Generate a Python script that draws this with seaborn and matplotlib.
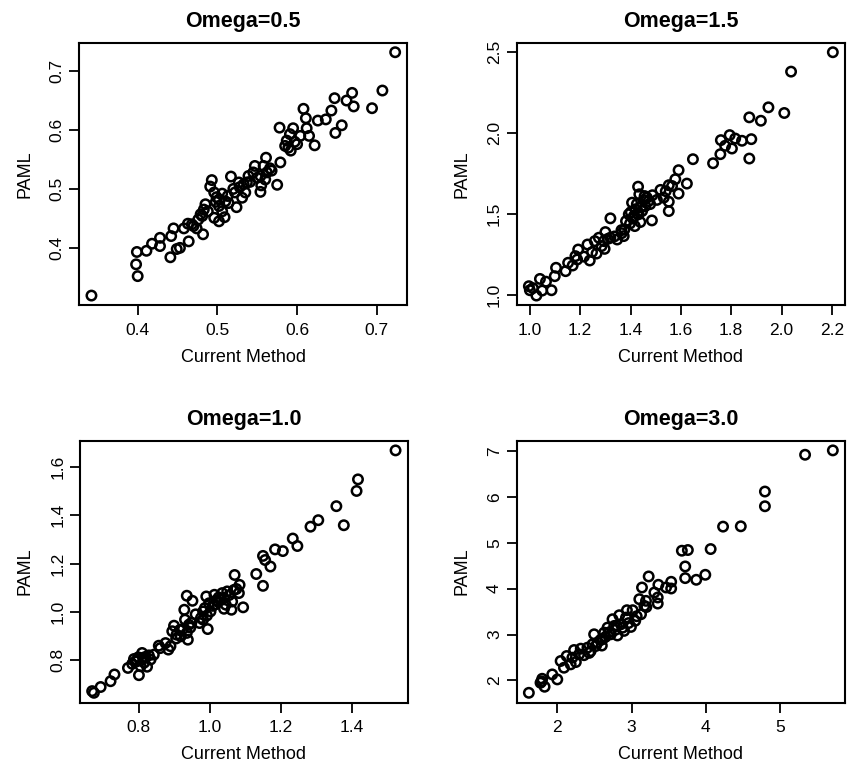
import matplotlib
matplotlib.use("Agg")
import matplotlib.pyplot as plt
import seaborn as sns
import numpy as np

# Omega=0.5
x05 = [0.342, 0.723, 0.707, 0.694, 0.669, 0.662, 0.671, 0.647, 0.643, 0.636,
       0.626, 0.656, 0.648, 0.622, 0.608, 0.611, 0.612, 0.615, 0.578, 0.595,
       0.591, 0.587, 0.600, 0.589, 0.585, 0.579, 0.561, 0.547, 0.558, 0.568,
       0.554, 0.562, 0.539, 0.550, 0.560, 0.575, 0.555, 0.554, 0.517, 0.527,
       0.533, 0.537, 0.522, 0.535, 0.531, 0.524, 0.493, 0.491, 0.496, 0.506,
       0.502, 0.510, 0.502, 0.506, 0.496, 0.502, 0.509, 0.485, 0.483, 0.481,
       0.479, 0.482, 0.474, 0.470, 0.463, 0.458, 0.464, 0.453, 0.449, 0.441,
       0.445, 0.442, 0.428, 0.428, 0.418, 0.411, 0.399, 0.398, 0.400,
       0.520, 0.513, 0.545, 0.566, 0.498, 0.488, 0.468, 0.597, 0.604, 0.541,
       0.528, 0.476, 0.592, 0.514, 0.499]
y05 = [0.319, 0.732, 0.667, 0.637, 0.663, 0.650, 0.640, 0.654, 0.633, 0.618,
       0.616, 0.608, 0.595, 0.574, 0.636, 0.620, 0.603, 0.590, 0.604, 0.603,
       0.593, 0.582, 0.576, 0.570, 0.573, 0.545, 0.553, 0.539, 0.539, 0.531,
       0.522, 0.528, 0.522, 0.519, 0.516, 0.507, 0.506, 0.495, 0.521, 0.511,
       0.508, 0.511, 0.494, 0.494, 0.485, 0.469, 0.515, 0.504, 0.494, 0.492,
       0.482, 0.479, 0.471, 0.462, 0.451, 0.445, 0.452, 0.474, 0.465, 0.454,
       0.457, 0.423, 0.433, 0.437, 0.441, 0.433, 0.411, 0.400, 0.398, 0.384,
       0.433, 0.420, 0.417, 0.403, 0.407, 0.395, 0.393, 0.372, 0.352,
       0.500, 0.488, 0.528, 0.535, 0.478, 0.462, 0.440, 0.580, 0.590, 0.512,
       0.503, 0.448, 0.565, 0.476, 0.486]

# Omega=1.5
x15 = [2.204, 2.038, 1.948, 2.011, 1.872, 1.918, 1.759, 1.794, 1.816, 1.843,
       1.880, 1.803, 1.776, 1.757, 1.872, 1.728, 1.648, 1.591, 1.624, 1.578,
       1.565, 1.591, 1.552, 1.519, 1.552, 1.532, 1.505, 1.552, 1.485, 1.430,
       1.435, 1.456, 1.472, 1.459, 1.446, 1.419, 1.406, 1.432, 1.413, 1.393,
       1.439, 1.417, 1.382, 1.376, 1.364, 1.373, 1.320, 1.347, 1.320, 1.300,
       1.274, 1.294, 1.258, 1.297, 1.229, 1.247, 1.265, 1.238, 1.192, 1.181,
       1.188, 1.152, 1.142, 1.104, 1.099, 1.040, 1.086, 1.049, 1.026, 0.996,
       1.000, 1.425, 1.442, 1.465, 1.401, 1.410, 1.452, 1.487, 1.336, 1.310,
       1.285, 1.215, 1.170, 1.540, 1.478, 1.398, 1.427, 1.365, 1.012, 1.064]
y15 = [2.500, 2.380, 2.159, 2.124, 2.097, 2.076, 1.956, 1.987, 1.966, 1.952,
       1.962, 1.904, 1.921, 1.869, 1.842, 1.813, 1.838, 1.770, 1.687, 1.714,
       1.672, 1.625, 1.677, 1.648, 1.575, 1.600, 1.586, 1.517, 1.459, 1.668,
       1.621, 1.610, 1.579, 1.548, 1.517, 1.528, 1.569, 1.497, 1.486, 1.497,
       1.449, 1.424, 1.455, 1.403, 1.399, 1.362, 1.472, 1.341, 1.352, 1.387,
       1.352, 1.331, 1.331, 1.283, 1.310, 1.263, 1.254, 1.211, 1.279, 1.238,
       1.217, 1.197, 1.145, 1.166, 1.114, 1.097, 1.027, 1.025, 0.994, 1.052,
       1.027, 1.560, 1.540, 1.600, 1.510, 1.470, 1.585, 1.615, 1.360, 1.345,
       1.300, 1.235, 1.180, 1.640, 1.560, 1.440, 1.500, 1.380, 1.040, 1.080]

# Omega=1.0
x10 = [1.524, 1.418, 1.414, 1.357, 1.378, 1.306, 1.284, 1.234, 1.247, 1.206,
       1.184, 1.150, 1.156, 1.171, 1.131, 1.150, 1.070, 1.084, 1.082, 1.094,
       1.063, 1.061, 1.040, 1.068, 1.049, 1.035, 1.040, 1.013, 1.021, 1.014,
       0.990, 0.998, 0.986, 0.981, 1.002, 0.935, 0.951, 0.928, 0.981, 0.971,
       0.994, 0.930, 0.941, 0.924, 0.935, 0.938, 0.899, 0.894, 0.906, 0.918,
       0.889, 0.875, 0.883, 0.856, 0.842, 0.809, 0.819, 0.833, 0.786, 0.795,
       0.781, 0.805, 0.823, 0.769, 0.800, 0.731, 0.720, 0.692, 0.668, 0.673,
       1.025, 1.055, 1.008, 0.992, 1.030, 0.960, 0.915, 0.948, 0.812, 0.828,
       0.798, 0.815, 1.045, 1.075, 0.975, 0.905, 0.860, 1.018, 0.945, 0.790]
y10 = [1.669, 1.549, 1.501, 1.438, 1.359, 1.380, 1.353, 1.304, 1.273, 1.252,
       1.259, 1.232, 1.215, 1.188, 1.157, 1.108, 1.153, 1.112, 1.078, 1.019,
       1.043, 1.009, 1.013, 1.091, 1.085, 1.078, 1.057, 1.071, 1.043, 1.030,
       1.064, 1.036, 1.016, 1.002, 1.002, 1.067, 1.046, 1.009, 0.968, 0.954,
       0.929, 0.968, 0.947, 0.929, 0.913, 0.885, 0.943, 0.920, 0.906, 0.899,
       0.858, 0.871, 0.844, 0.860, 0.823, 0.830, 0.814, 0.803, 0.805, 0.796,
       0.785, 0.775, 0.773, 0.768, 0.738, 0.741, 0.713, 0.689, 0.672, 0.665,
       1.060, 1.070, 1.025, 0.985, 1.050, 0.990, 0.925, 0.955, 0.810, 0.820,
       0.812, 0.790, 1.030, 1.095, 0.975, 0.890, 0.850, 1.048, 0.935, 0.795]

# Omega=3.0
x30 = [5.712, 5.338, 4.797, 4.797, 4.472, 4.233, 4.066, 3.678, 3.759, 3.723,
       3.723, 3.872, 3.994, 3.231, 3.141, 3.362, 3.534, 3.534, 3.465, 3.308,
       3.353, 3.353, 3.105, 3.195, 3.173, 3.128, 3.015, 2.992, 2.938, 2.925,
       2.835, 2.857, 2.744, 2.767, 2.677, 2.722, 2.632, 2.609, 2.496, 2.541,
       2.474, 2.406, 2.316, 2.226, 2.293, 2.203, 2.126, 2.045, 2.090, 1.932,
       2.000, 1.797, 1.774, 1.829, 1.617,
       2.780, 2.800, 2.880, 2.700, 2.650, 2.580, 2.520, 2.430, 2.360, 2.250,
       2.180, 2.960, 3.050, 2.900, 2.810, 2.600, 2.450, 3.070, 3.200, 1.790]
y30 = [7.015, 6.920, 6.118, 5.797, 5.360, 5.353, 4.864, 4.828, 4.843, 4.485,
       4.230, 4.194, 4.303, 4.267, 4.026, 4.085, 4.150, 4.004, 4.026, 3.917,
       3.808, 3.676, 3.771, 3.735, 3.625, 3.443, 3.531, 3.166, 3.531, 3.370,
       3.421, 3.224, 3.334, 3.188, 3.152, 3.006, 3.042, 2.897, 3.006, 2.824,
       2.787, 2.714, 2.692, 2.663, 2.569, 2.496, 2.532, 2.423, 2.277, 2.131,
       2.022, 2.036, 1.949, 1.862, 1.730,
       3.100, 3.200, 3.150, 3.050, 2.950, 2.880, 2.750, 2.600, 2.550, 2.400,
       2.350, 3.250, 3.300, 3.080, 2.980, 2.760, 2.640, 3.400, 3.600, 1.980]

titles = ["Omega=0.5", "Omega=1.5", "Omega=1.0", "Omega=3.0"]
xticks = [[0.4, 0.5, 0.6, 0.7], [1.0, 1.2, 1.4, 1.6, 1.8, 2.0, 2.2],
          [0.8, 1.0, 1.2, 1.4], [2, 3, 4, 5]]
yticks = [[0.4, 0.5, 0.6, 0.7], [1.0, 1.5, 2.0, 2.5],
          [0.8, 1.0, 1.2, 1.4, 1.6], [2, 3, 4, 5, 6, 7]]
xticklabels = [["0.4", "0.5", "0.6", "0.7"],
               ["1.0", "1.2", "1.4", "1.6", "1.8", "2.0", "2.2"],
               ["0.8", "1.0", "1.2", "1.4"], ["2", "3", "4", "5"]]
yticklabels = [["0.4", "0.5", "0.6", "0.7"], ["1.0", "1.5", "2.0", "2.5"],
               ["0.8", "1.0", "1.2", "1.4", "1.6"],
               ["2", "3", "4", "5", "6", "7"]]

sns.set_style("white")
plt.rcParams['font.family'] = ['Liberation Sans', 'DejaVu Sans']
plt.rcParams['text.color'] = 'black'
plt.rcParams['axes.labelcolor'] = 'black'

fig = plt.figure(figsize=(8.57, 7.67), dpi=100)
W, H = 857, 767
# pixel boxes: left, top, right, bottom
boxes = [(79.3, 42.5, 407.3, 305.3), (516.7, 42.5, 845, 305.3),
         (80, 440.7, 407.7, 702.5), (516.7, 440.7, 845, 702.5)]
data = [(x05, y05), (x15, y15), (x10, y10), (x30, y30)]


def r_lim(v):
    # R style: extend range by 4% on each side
    lo, hi = min(v), max(v)
    d = (hi - lo) * 0.04
    return lo - d, hi + d


for i, (l, t, r, b) in enumerate(boxes):
    ax = fig.add_axes([l / W, 1 - b / H, (r - l) / W, (b - t) / H])
    xs, ys = data[i]
    sns.scatterplot(x=xs, y=ys, ax=ax, marker="o", s=46,
                    facecolor="none", edgecolor="black", linewidth=1.8)
    ax.set_xlim(r_lim(xs))
    ax.set_ylim(r_lim(ys))
    ax.set_xticks(xticks[i])
    ax.set_xticklabels(xticklabels[i])
    ax.set_yticks(yticks[i])
    ax.set_yticklabels(yticklabels[i], rotation=90, va="center")
    ax.tick_params(axis="both", direction="out", length=7.5, width=1.3,
                   labelsize=12.5, colors="black", left=True, bottom=True)
    ax.tick_params(axis="x", pad=5)
    ax.tick_params(axis="y", pad=3)
    for sp in ax.spines.values():
        sp.set_color("black")
        sp.set_linewidth(1.5)
    ax.set_title(titles[i], fontsize=15.5, fontweight="bold", pad=11)
    ax.set_xlabel("Current Method", fontsize=13, labelpad=8)
    ax.set_ylabel("PAML", fontsize=13, labelpad=12)

fig.savefig("out.png", dpi=100)
